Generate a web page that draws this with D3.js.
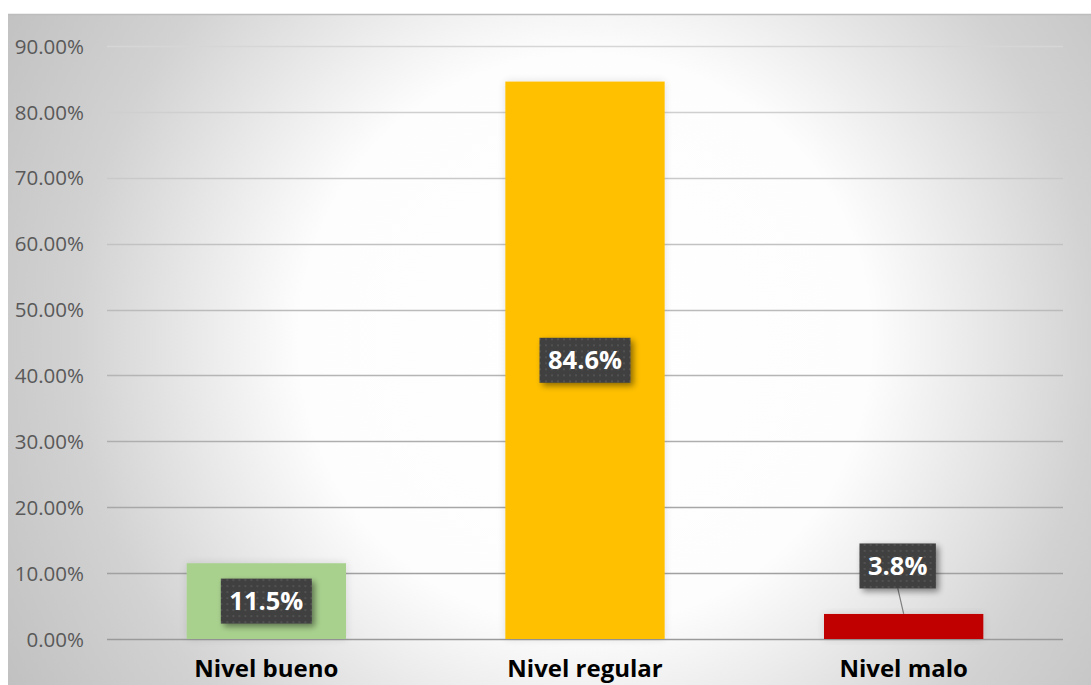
<!DOCTYPE html>
<html><head><meta charset="utf-8">
<script src="https://cdn.jsdelivr.net/npm/d3@7"></script>
<style>html,body{margin:0;padding:0;background:#fff;}svg{display:block;}</style>
</head><body>
<script>
const categories = ["Nivel bueno", "Nivel regular", "Nivel malo"];
const values = [0.115, 0.846, 0.038];
const valueLabels = ["11.5%", "84.6%", "3.8%"];
const barColors = ["#a9d18e", "#ffc000", "#c00000"];
const yTicks = [0, 0.1, 0.2, 0.3, 0.4, 0.5, 0.6, 0.7, 0.8, 0.9];

const W = 1091, H = 685;
const svg = d3.select("body").append("svg").attr("width", W).attr("height", H);
const defs = svg.append("defs");

const rg = defs.append("radialGradient").attr("id", "bg")
  .attr("gradientUnits", "userSpaceOnUse")
  .attr("cx", 585).attr("cy", 340).attr("r", 680);
[[0, "#ffffff"], [0.42, "#fdfdfd"], [0.52, "#f0f0f0"], [0.75, "#d2d2d2"], [1, "#c0c0c0"]]
  .forEach(([o, c]) => rg.append("stop").attr("offset", o).attr("stop-color", c));

const pat = defs.append("pattern").attr("id", "dots").attr("patternUnits", "userSpaceOnUse")
  .attr("width", 6).attr("height", 6);
pat.append("rect").attr("width", 6).attr("height", 6).attr("fill", "#404040");
pat.append("circle").attr("cx", 3).attr("cy", 3).attr("r", 1).attr("fill", "#575757");

const sh = defs.append("filter").attr("id", "shadow").attr("x", "-30%").attr("y", "-30%").attr("width", "160%").attr("height", "160%");
sh.append("feGaussianBlur").attr("in", "SourceAlpha").attr("stdDeviation", 3).attr("result", "b");
sh.append("feOffset").attr("in", "b").attr("dx", 3).attr("dy", 3).attr("result", "o");
sh.append("feComponentTransfer").attr("in", "o").attr("result", "o2")
  .append("feFuncA").attr("type", "linear").attr("slope", 0.45);
const m = sh.append("feMerge");
m.append("feMergeNode").attr("in", "o2");
m.append("feMergeNode").attr("in", "SourceGraphic");

const glow = defs.append("filter").attr("id", "glow").attr("x", "-20%").attr("y", "-20%").attr("width", "140%").attr("height", "140%");
glow.append("feGaussianBlur").attr("in", "SourceAlpha").attr("stdDeviation", 4).attr("result", "b");
glow.append("feComponentTransfer").attr("in", "b").attr("result", "b2")
  .append("feFuncA").attr("type", "linear").attr("slope", 0.12);
const m2 = glow.append("feMerge");
m2.append("feMergeNode").attr("in", "b2");
m2.append("feMergeNode").attr("in", "SourceGraphic");

// chart area background
svg.append("rect").attr("x", 8).attr("y", 14).attr("width", W - 8).attr("height", H - 14)
  .attr("fill", "url(#bg)");
svg.append("line").attr("x1", 8).attr("x2", W).attr("y1", 14.5).attr("y2", 14.5)
  .attr("stroke", "#bdbdbd").attr("stroke-width", 1.5);

const x = d3.scaleBand().domain(categories).range([107, 1063]).paddingInner(0.5).paddingOuter(0.25);
const y = d3.scaleLinear().domain([0, 0.9]).range([639, 46]);
const gridColor = d3.scaleLinear().domain([0, 0.9]).range(["#9a9a9a", "#d6d6d6"]);

// gridlines
const gridG = svg.append("g");
gridG.selectAll("line").data(yTicks).join("line")
  .attr("x1", 107).attr("x2", 1063)
  .attr("y1", d => Math.round(y(d)) + 0.5).attr("y2", d => Math.round(y(d)) + 0.5)
  .attr("stroke", d => gridColor(d)).attr("stroke-width", 1.5);

// y axis
const yAxis = d3.axisLeft(y).tickValues(yTicks).tickFormat(d => (d * 100).toFixed(2) + "%").tickSize(0).tickPadding(0);
const ya = svg.append("g").attr("transform", "translate(84,0)").call(yAxis);
ya.select(".domain").remove();
ya.selectAll("text").attr("font-family", "'Open Sans', sans-serif").attr("font-size", 20.5)
  .attr("fill", "#595959").attr("dy", "0.35em");

// bars
svg.append("g").selectAll("rect").data(values).join("rect")
  .attr("x", (d, i) => x(categories[i]))
  .attr("width", x.bandwidth())
  .attr("y", d => y(d))
  .attr("height", d => y(0) - y(d))
  .attr("fill", (d, i) => barColors[i])
  .attr("filter", "url(#glow)");

// x axis labels
const xAxis = d3.axisBottom(x).tickSize(0).tickPadding(0);
const xa = svg.append("g").attr("transform", "translate(0,639)").call(xAxis);
xa.select(".domain").remove();
xa.selectAll("text").attr("font-family", "'Open Sans', sans-serif").attr("font-weight", "bold")
  .attr("font-size", 24).attr("fill", "#000").attr("dy", null).attr("y", 38);

// data labels
const labelPos = values.map((v, i) => {
  const cx = x(categories[i]) + x.bandwidth() / 2;
  if (i === 2) return { cx: cx - 6, cy: y(v) - 48, leader: true };
  return { cx: cx, cy: (y(v) + y(0)) / 2, leader: false };
});
const lg = svg.append("g");
labelPos.forEach((p, i) => {
  if (p.leader) {
    lg.append("line").attr("x1", p.cx).attr("y1", p.cy + 22)
      .attr("x2", x(categories[i]) + x.bandwidth() / 2).attr("y2", y(values[i]))
      .attr("stroke", "#7f7f7f").attr("stroke-width", 1.2);
  }
});
labelPos.forEach((p, i) => {
  const g = lg.append("g").attr("transform", `translate(${p.cx},${p.cy})`);
  const t = g.append("text").text(valueLabels[i])
    .attr("font-family", "'Open Sans', sans-serif").attr("font-weight", "bold")
    .attr("font-size", 25.5).attr("fill", "#fff").attr("text-anchor", "middle").attr("dy", "0.36em");
  const bb = t.node().getBBox();
  const padX = 8.5;
  g.insert("rect", "text").attr("x", bb.x - padX).attr("y", -22.5)
    .attr("width", bb.width + 2 * padX).attr("height", 45)
    .attr("fill", "url(#dots)").attr("filter", "url(#shadow)");
});
</script>
</body></html>
